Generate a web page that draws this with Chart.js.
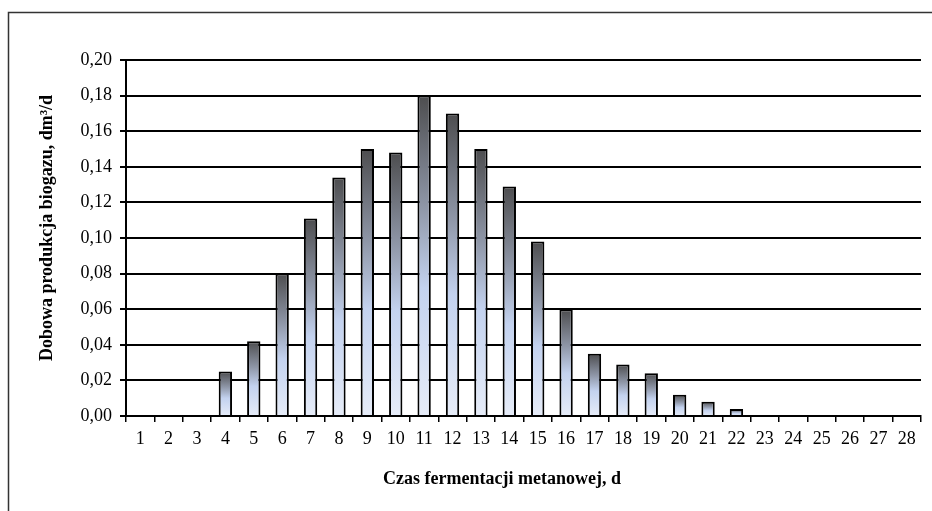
<!DOCTYPE html>
<html lang="pl">
<head>
  <meta charset="UTF-8">
  <title>Dobowa produkcja biogazu</title>
  <script src="https://cdn.jsdelivr.net/npm/chart.js"></script>
  <style>
    html, body {
      margin: 0;
      padding: 0;
      background: #fff;
    }
    .wrap {
      width: 932px;
      height: 511px;
      position: relative;
    }
  </style>
</head>
<body>
<div class="wrap">
  <canvas id="biogasChart" width="932" height="511"></canvas>
</div>

<script>
  // Data
  const days = ['1','2','3','4','5','6','7','8','9','10','11','12','13','14',
                '15','16','17','18','19','20','21','22','23','24','25','26','27','28'];
  const dailyBiogas = [0, 0, 0, 0.025, 0.042, 0.080, 0.111, 0.134, 0.150, 0.148,
                       0.180, 0.170, 0.150, 0.129, 0.098, 0.060, 0.035, 0.029,
                       0.024, 0.012, 0.008, 0.004, 0, 0, 0, 0, 0, 0];
  const yMin = 0;
  const yMax = 0.20;
  const yStep = 0.02;

  const yTitle = 'Dobowa produkcja biogazu, dm\u00B3/d';
  const xTitle = 'Czas fermentacji metanowej, d';

  const serif = "'Liberation Serif', 'Times New Roman', serif";

  // per-bar vertical gradient: dark grey on top, pale blue at the base
  function barFill(c) {
    const chart = c.chart;
    if (!chart.chartArea || c.dataIndex === undefined) return '#c4d2ee';
    const y = chart.scales.y;
    const top = y.getPixelForValue(dailyBiogas[c.dataIndex]);
    const base = y.getPixelForValue(0);
    if (base - top < 1) return '#e2e9f6';
    const g = chart.ctx.createLinearGradient(0, top, 0, base);
    g.addColorStop(0, '#4d4d4f');
    g.addColorStop(0.35, '#8f97a8');
    g.addColorStop(0.6, '#c3d2ef');
    g.addColorStop(1, '#e6ecf8');
    return g;
  }

  // outer frame of the chart object + axis titles (Excel puts them off-centre)
  const framePlugin = {
    id: 'frame',
    beforeDraw(chart) {
      const ctx = chart.ctx;
      ctx.save();
      ctx.fillStyle = '#fff';
      ctx.fillRect(0, 0, chart.width, chart.height);
      ctx.strokeStyle = '#333';
      ctx.lineWidth = 1.5;
      ctx.strokeRect(8.5, 12.5, chart.width + 20, chart.height + 20);
      ctx.restore();
    },
    afterDraw(chart) {
      const ctx = chart.ctx;
      ctx.save();
      ctx.fillStyle = '#000';
      ctx.font = 'bold 18px ' + serif;
      ctx.textAlign = 'center';
      ctx.textBaseline = 'middle';
      ctx.fillText(xTitle, 502, 479);
      ctx.translate(47, 228);
      ctx.rotate(-Math.PI / 2);
      ctx.fillText(yTitle, 0, 0);
      ctx.restore();
    }
  };

  const ctx = document.getElementById('biogasChart').getContext('2d');
  const chart = new Chart(ctx, {
    type: 'bar',
    data: {
      labels: days,
      datasets: [{
        data: dailyBiogas,
        backgroundColor: barFill,
        borderColor: '#000',
        borderWidth: 2,
        borderSkipped: 'bottom',
        categoryPercentage: 1,
        barPercentage: 0.47
      }]
    },
    options: {
      responsive: false,
      animation: false,
      devicePixelRatio: 1,
      layout: {
        padding: { left: 0, top: 60, right: 11, bottom: 0 }
      },
      plugins: {
        legend: { display: false },
        tooltip: { enabled: false }
      },
      scales: {
        x: {
          offset: true,
          grid: {
            offset: true,
            drawOnChartArea: false,
            color: '#000',
            lineWidth: 1.5,
            tickLength: 6
          },
          border: { color: '#000', width: 2 },
          ticks: {
            color: '#000',
            padding: 6,
            maxRotation: 0,
            autoSkip: false,
            font: { family: serif, size: 18 }
          },
          afterFit(scale) { scale.height = 95; }
        },
        y: {
          min: yMin,
          max: yMax,
          grid: {
            color: '#000',
            lineWidth: 2,
            tickLength: 6
          },
          border: { color: '#000', width: 2 },
          ticks: {
            stepSize: yStep,
            color: '#000',
            padding: 8,
            font: { family: serif, size: 18 },
            callback: v => v.toFixed(2).replace('.', ',')
          },
          afterFit(scale) { scale.width = 126; }
        }
      }
    },
    plugins: [framePlugin]
  });
</script>
</body>
</html>
